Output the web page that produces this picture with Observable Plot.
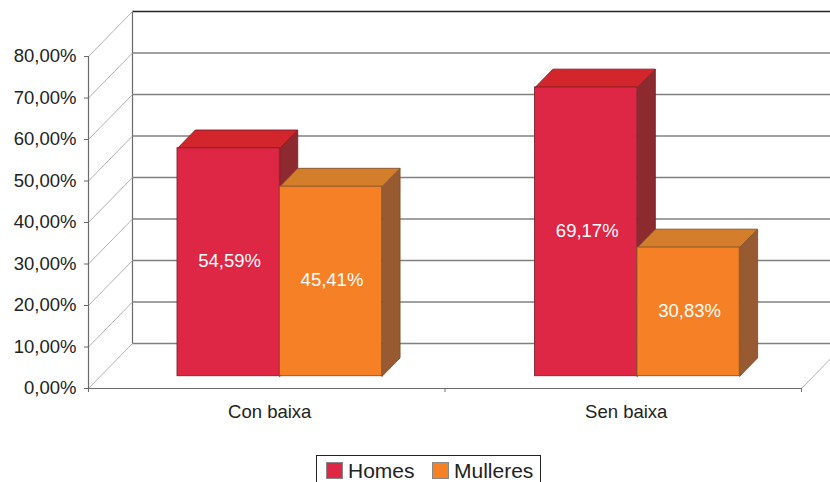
<!DOCTYPE html>
<html lang="gl">
<head>
<meta charset="utf-8">
<script src="https://cdn.jsdelivr.net/npm/d3@7"></script>
<script src="https://cdn.jsdelivr.net/npm/@observablehq/plot@0.6"></script>
<style>
html,body{margin:0;padding:0;background:#fff;overflow:hidden;width:830px;height:482px;font-family:"Liberation Sans",Arial,sans-serif}
svg{display:block}
#legend{position:relative;box-sizing:border-box;margin-left:316px;width:225px;height:40px;border:1.5px solid #222;font-size:21px;color:#222}
#legend i{position:absolute;top:6px;width:15px;height:15px;border:.8px solid #888}
#legend span{position:absolute;top:2px;line-height:26px}
</style>
</head>
<body>
<div id="chart"></div>
<div id="legend"></div>
<script>
const categories = ["Con baixa", "Sen baixa"];
const series = ["Homes", "Mulleres"];
const homes = [54.59, 69.17];
const mulleres = [45.41, 30.83];
const yTicks = [0, 10, 20, 30, 40, 50, 60, 70, 80];
const xBoundaries = [0, 1, 2];

// Oblique projection of the 3D chart: depth moves a point right and up, in data units.
const depthX = 0.1234, depthY = 10.84;
const barDepth0 = 0.273, barDepth1 = 0.68;
const barStart = 0.216, barWidth = 0.287, barGain = 1.006;
const groupShift = [0, 0.003];
const fmt = v => v.toFixed(2).replace(".", ",") + "%";
const P = (x, v, d) => ({x: x + d * depthX, y: v * 1 + d * depthY});

const bars = [];
categories.forEach((c, i) => {
  [homes[i], mulleres[i]].forEach((v, s) => {
    const x0 = i + barStart + groupShift[i] + s * barWidth + barDepth0 * depthX;
    const x1 = x0 + barWidth;
    const y0 = barDepth0 * depthY;
    const top = v * barGain + y0;
    const dx = (barDepth1 - barDepth0) * depthX, dy = (barDepth1 - barDepth0) * depthY;
    bars.push({c, s: series[s], v, x0, x1, y0, top, dx, dy});
  });
});
const poly = (pts, id) => [...pts, pts[0]].map(p => ({id, x: p[0], y: p[1]}));
const sideRows = b => poly([[b.x1, b.y0], [b.x1 + b.dx, b.y0 + b.dy], [b.x1 + b.dx, b.top + b.dy], [b.x1, b.top]], b.c);
const topRows = b => poly([[b.x0, b.top], [b.x0 + b.dx, b.top + b.dy], [b.x1 + b.dx, b.top + b.dy], [b.x1, b.top]], b.c);

const colors = {
  Homes:    {front: "#de2645", top: "#d2262c", side: "#8d2a30", edge: "#7d2029"},
  Mulleres: {front: "#f58025", top: "#d47d2a", side: "#985a30", edge: "#80542c"}
};
const barMarks = s => {
  const rows = bars.filter(b => b.s === s), col = colors[s];
  return rows.flatMap(b => [
    Plot.line(sideRows(b), {x: "x", y: "y", z: "id", fill: col.side, stroke: col.edge, strokeWidth: 0.9}),
    Plot.line(topRows(b), {x: "x", y: "y", z: "id", fill: col.top, stroke: col.edge, strokeWidth: 0.9}),
    Plot.rect([b], {x1: "x0", x2: "x1", y1: "y0", y2: "top", fill: col.front, stroke: col.edge, strokeWidth: 0.9})
  ]);
};
const diagonals = yTicks.map(t => Plot.line([P(0, t, 0), P(0, t, 1)], {x: "x", y: "y", stroke: "#a8a8a8", strokeWidth: 0.9}));
const floorRight = Plot.line([P(2, 0, 0), P(2, 0, 1)], {x: "x", y: "y", stroke: "#a8a8a8", strokeWidth: 0.9});

const chart = Plot.plot({
  width: 830, height: 455,
  marginLeft: 88, marginRight: 29, marginTop: 56, marginBottom: 67,
  style: {fontFamily: "'Liberation Sans', Arial, sans-serif", fontSize: "18px", background: "#fff"},
  x: {domain: [0, 2], label: null},
  y: {domain: [0, 80], label: null},
  marks: [
    // back wall and floor
    Plot.ruleY(yTicks.filter(t => t < 80), {y: t => t + depthY, x1: depthX, x2: 2 + depthX, stroke: "#808080", strokeWidth: 1.3}),
    Plot.ruleY([80], {y: t => t + depthY, x1: depthX, x2: 2 + depthX, stroke: "#222", strokeWidth: 1.3}),
    Plot.ruleX([depthX], {y1: depthY, y2: 80 + depthY, stroke: "#6a6a6a", strokeWidth: 1.2}),
    ...diagonals,
    floorRight,
    // axes
    Plot.ruleX([0], {y1: 0, y2: 80, stroke: "#6a6a6a", strokeWidth: 1.2}),
    Plot.ruleY([0], {x1: 0, x2: 2, stroke: "#6a6a6a", strokeWidth: 1.2}),
    Plot.axisY({ticks: yTicks, tickFormat: fmt, tickSize: 4, tickPadding: 8, stroke: "#6a6a6a", fill: "#222", fontSize: 18.5, label: null}),
    Plot.axisX({ticks: xBoundaries, tickFormat: () => "", tickSize: 4, stroke: "#6a6a6a", label: null}),
    Plot.axisX({ticks: [0.5, 1.5], tickFormat: d => categories[Math.floor(d)], tickSize: 0, tickPadding: 16, fill: "#222", fontSize: 18.5, dx: 3, label: null}),
    // bars
    ...series.flatMap(barMarks),
    Plot.text(bars, {x: b => (b.x0 + b.x1) / 2, y: b => (b.y0 + b.top) / 2, text: b => fmt(b.v), fill: "#fff", fontSize: 18.5, dx: 1, dy: -1})
  ]
});
document.getElementById("chart").append(chart);

const legend = d3.select("#legend");
const layout = [[9, 31], [114.5, 137]];
series.forEach((s, i) => {
  legend.append("i").style("left", layout[i][0] + "px").style("background", colors[s].front);
  legend.append("span").style("left", layout[i][1] + "px").text(s);
});
</script>
</body>
</html>
